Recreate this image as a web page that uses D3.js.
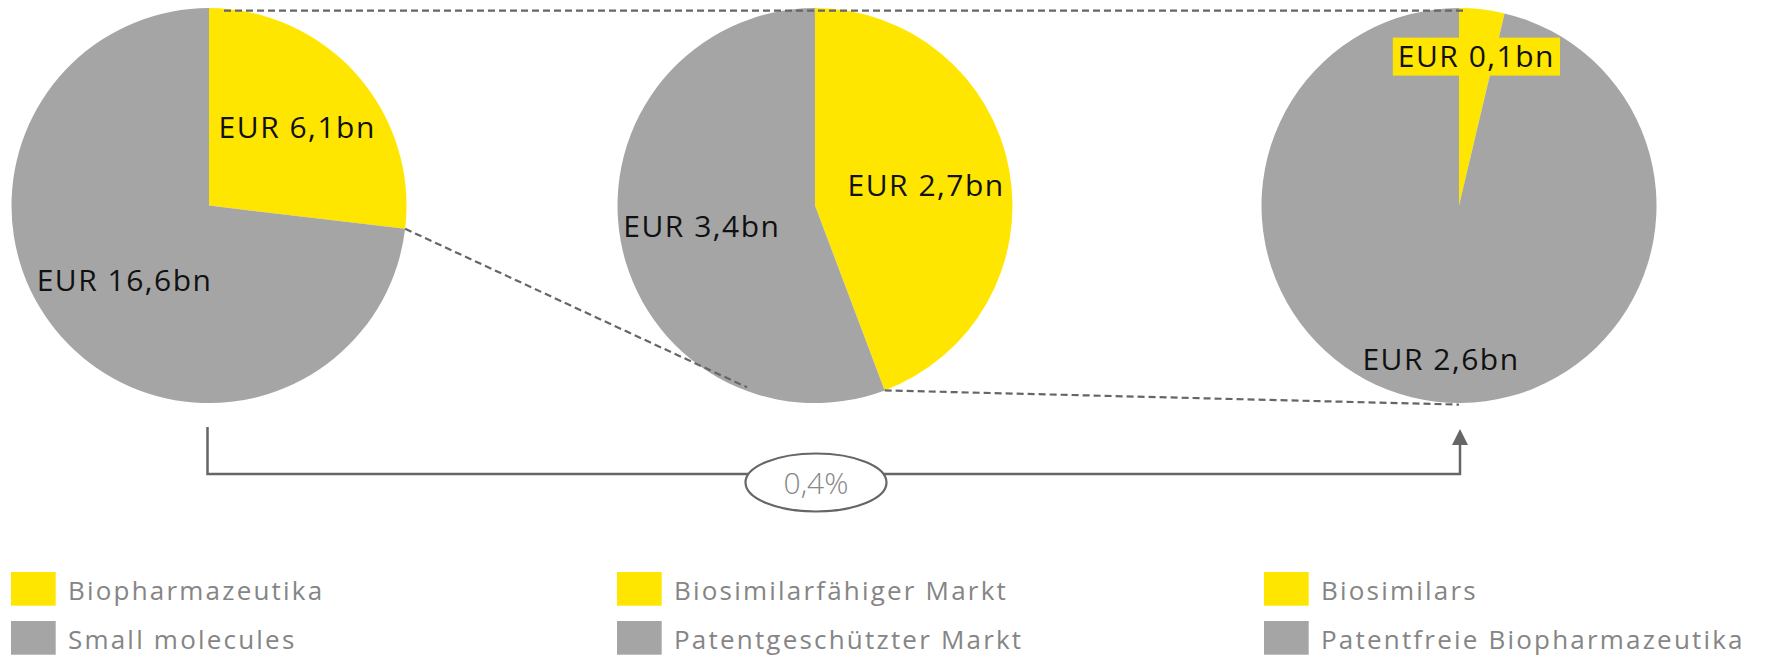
<!DOCTYPE html>
<html>
<head>
<meta charset="utf-8">
<script src="https://cdn.jsdelivr.net/npm/d3@7"></script>
<style>
	html, body { margin: 0; padding: 0; background: #fff; }
	svg { display: block; }
	text { font-family: "Open Sans", "Noto Sans", sans-serif; }
</style>
</head>
<body>
<svg id="chart" width="1767" height="658"></svg>
<script>
// values per pie: [yellow slice, gray slice]
const leftNames = ['Biopharmazeutika', 'Small molecules'];
const leftValues = [6.1, 16.6];

const midNames = ['Biosimilarfähiger Markt', 'Patentgeschützter Markt'];
const midValues = [2.7, 3.4];

const rightNames = ['Biosimilars', 'Patentfreie Biopharmazeutika'];
const rightValues = [0.1, 2.6];

const shareLabel = '0,4%';

const yellow = '#ffe600';
const gray = '#a5a5a5';
const lineColor = '#666666';

const svg = d3.select('#chart');

const radius = 197.5;
const cy = 205.6;
const pies = [
	{ names: leftNames, values: leftValues, cx: 209, labelR: [118, 113], legendX: 11 },
	{ names: midNames, values: midValues, cx: 815, labelR: [113, 115], legendX: 617 },
	{ names: rightNames, values: rightValues, cx: 1459, labelR: [150, 155], legendX: 1264, boxed: true }
];

const colorScale = d3.scaleOrdinal().domain([0, 1]).range([yellow, gray]);

const locale = d3.formatLocale({ decimal: ',', thousands: '.', grouping: [3], currency: ['', ''] });
const fmt = locale.format('.1f');

const pie = d3.pie().sort(null).value(d => d);
const arc = d3.arc().innerRadius(0).outerRadius(radius);

pies.forEach(p => {
	p.arcs = pie(p.values);
	const g = svg.append('g')
		.attr('transform', 'translate(' + p.cx + ',' + cy + ')');
	p.g = g;

	g.selectAll('path')
		.data(p.arcs)
		.enter().append('path')
		.attr('d', arc)
		.attr('fill', (d, i) => colorScale(i));
});

// point on a pie's rim at a given angle (0 = 12 o'clock, clockwise)
function rim(p, angle, r) {
	r = r || radius;
	return [p.cx + r * Math.sin(angle), cy - r * Math.cos(angle)];
}

const deg = Math.PI / 180;

// dashed zoom connectors
const connectors = [
	[[pies[0].cx + 15, cy - radius + 2.5], [pies[2].cx + 8, cy - radius + 2.5]],
	[rim(pies[0], pies[0].arcs[0].endAngle), rim(pies[1], 200.5 * deg, 194)],
	[rim(pies[1], pies[1].arcs[0].endAngle), [pies[2].cx, cy + radius + 1.5]]
];

svg.selectAll('.connector')
	.data(connectors)
	.enter().append('line')
	.attr('class', 'connector')
	.attr('x1', d => d[0][0])
	.attr('y1', d => d[0][1])
	.attr('x2', d => d[1][0])
	.attr('y2', d => d[1][1])
	.attr('stroke', lineColor)
	.attr('stroke-width', 2.2)
	.attr('stroke-dasharray', '7,4');

// value labels
pies.forEach(p => {
	p.arcs.forEach((a, i) => {
		const labelArc = d3.arc().innerRadius(p.labelR[i]).outerRadius(p.labelR[i]);
		const c = labelArc.centroid(a);
		const t = p.g.append('text')
			.attr('x', c[0])
			.attr('y', c[1])
			.attr('dy', '0.36em')
			.attr('text-anchor', 'middle')
			.attr('font-size', 30)
			.attr('letter-spacing', 1.5)
			.attr('fill', '#111')
			.text('EUR ' + fmt(a.data) + 'bn');

		if (p.boxed && i === 0) {
			const bb = t.node().getBBox();
			p.g.insert('rect', 'text')
				.attr('x', bb.x - 5)
				.attr('y', c[1] - 19)
				.attr('width', bb.width + 10)
				.attr('height', 38)
				.attr('fill', yellow);
		}
	});
});

// bracket arrow from first to last pie
const bracketY = 474;
const bracket = d3.line()([
	[pies[0].cx - 1.5, 427],
	[pies[0].cx - 1.5, bracketY],
	[pies[2].cx + 1, bracketY],
	[pies[2].cx + 1, 444]
]);

svg.append('path')
	.attr('d', bracket)
	.attr('fill', 'none')
	.attr('stroke', lineColor)
	.attr('stroke-width', 2.5);

svg.append('path')
	.attr('d', d3.line()([
		[pies[2].cx + 1, 429],
		[pies[2].cx + 9, 445],
		[pies[2].cx - 7, 445]
	]) + 'Z')
	.attr('fill', lineColor);

svg.append('ellipse')
	.attr('cx', pies[1].cx + 1)
	.attr('cy', 482.5)
	.attr('rx', 70.5)
	.attr('ry', 29)
	.attr('fill', '#fff')
	.attr('stroke', lineColor)
	.attr('stroke-width', 2.2);

svg.append('text')
	.attr('x', pies[1].cx + 1)
	.attr('y', 494)
	.attr('text-anchor', 'middle')
	.attr('font-size', 30)
	.attr('font-weight', 300)
	.attr('fill', '#888')
	.text(shareLabel);

// legend
const legendRows = [572, 621];
pies.forEach(p => {
	const lg = svg.append('g');
	p.names.forEach((name, i) => {
		lg.append('rect')
			.attr('x', p.legendX)
			.attr('y', legendRows[i])
			.attr('width', 44.7)
			.attr('height', 33.7)
			.attr('fill', colorScale(i));
		lg.append('text')
			.attr('x', p.legendX + 57)
			.attr('y', legendRows[i] + 28)
			.attr('font-size', 26)
			.attr('letter-spacing', 2.2)
			.attr('fill', '#858585')
			.text(name);
	});
});
</script>
</body>
</html>
